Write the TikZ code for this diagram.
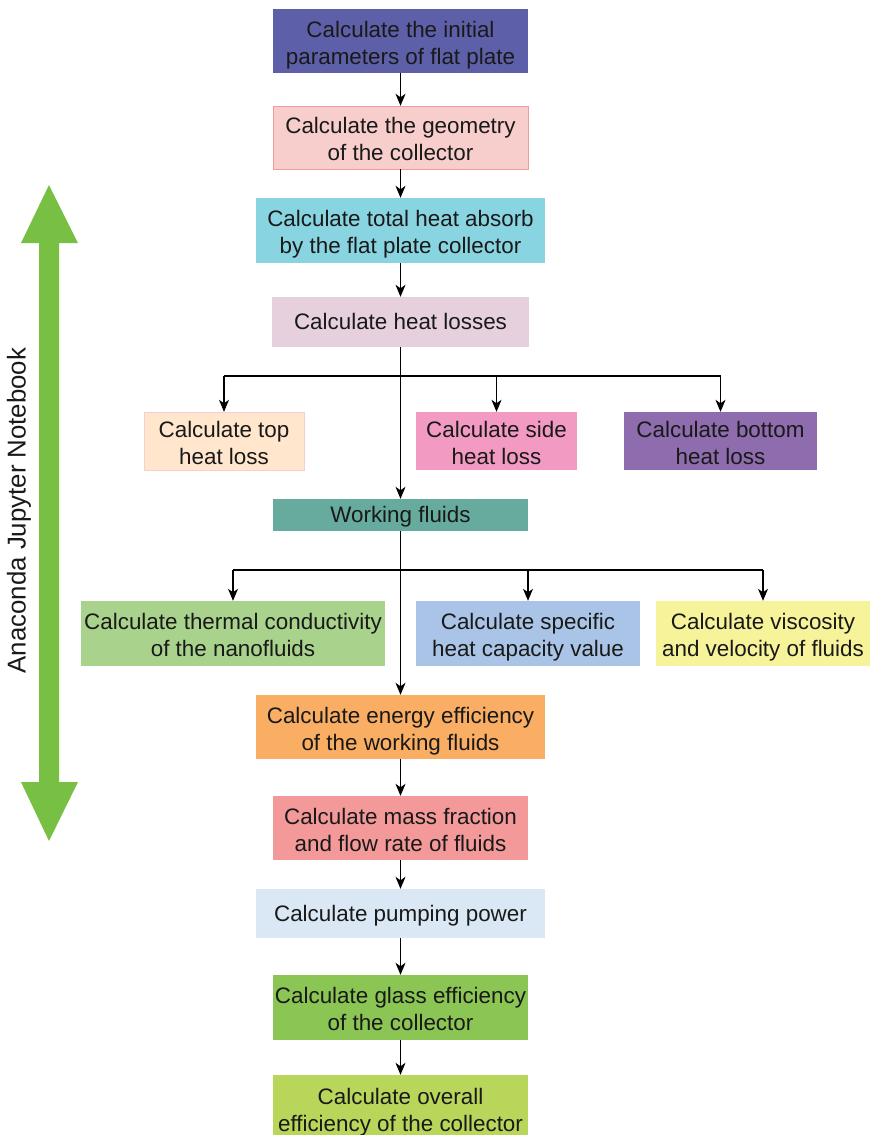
\documentclass[tikz,border=0pt]{standalone}
\usepackage{fontspec}
\setmainfont{Liberation Sans}
\usetikzlibrary{arrows.meta}

\definecolor{initfill}{HTML}{5D60A8}
\definecolor{geomfill}{HTML}{F8CECC}
\definecolor{geomline}{HTML}{F19C99}
\definecolor{absorbfill}{HTML}{89D4E1}
\definecolor{lossfill}{HTML}{E6D0DE}
\definecolor{topfill}{HTML}{FFE6CC}
\definecolor{sidefill}{HTML}{F29AC2}
\definecolor{bottomfill}{HTML}{8E6CAD}
\definecolor{fluidfill}{HTML}{67AB9F}
\definecolor{thermfill}{HTML}{A9D38C}
\definecolor{specfill}{HTML}{A9C4E6}
\definecolor{viscfill}{HTML}{F7F39A}
\definecolor{energyfill}{HTML}{FAAE64}
\definecolor{massfill}{HTML}{F4999A}
\definecolor{pumpfill}{HTML}{DAE8F5}
\definecolor{glassfill}{HTML}{8BC553}
\definecolor{overallfill}{HTML}{B8D65A}
\definecolor{jupyter}{HTML}{77C043}

\begin{document}
\begin{tikzpicture}[x=1pt,y=-1pt,
    stepbox/.style={rectangle, inner sep=0pt, align=center, text=black!90,
        text height=50pt, text depth=4pt,
        font=\fontsize{22.4}{27}\selectfont},
    singleline/.style={text height=21.5pt, text depth=6.5pt},
    flow/.style={-{Stealth[length=12pt,width=10pt,inset=3.5pt]}, line width=1.1pt}]
    \useasboundingbox (0,0) rectangle (870,1135);
    % main column
    \node[stepbox, fill=initfill, minimum width=255pt, minimum height=64pt] (init) at (400.5,41)
        {Calculate the initial\\parameters of flat plate};
    \node[stepbox, fill=geomfill, draw=geomline, minimum width=255pt, minimum height=63pt] (geom) at (400.5,137.5)
        {Calculate the geometry\\of the collector};
    \node[stepbox, fill=absorbfill, minimum width=289pt, minimum height=65pt] (absorb) at (400.5,230.5)
        {Calculate total heat absorb\\by the flat plate collector};
    \node[stepbox, singleline, fill=lossfill, minimum width=257pt, minimum height=50pt] (losses) at (400.5,322)
        {Calculate heat losses};
    % heat loss branches
    \node[stepbox, fill=topfill, draw=geomfill, minimum width=160pt, minimum height=58pt] (top) at (224,441)
        {Calculate top\\heat loss};
    \node[stepbox, fill=sidefill, minimum width=161pt, minimum height=58pt] (side) at (496.5,441)
        {Calculate side\\heat loss};
    \node[stepbox, fill=bottomfill, minimum width=193pt, minimum height=58pt] (bottom) at (720.5,441)
        {Calculate bottom\\heat loss};
    \node[stepbox, singleline, fill=fluidfill, minimum width=255pt, minimum height=32pt] (fluids) at (400.5,515)
        {Working fluids};
    % fluid property branches
    \node[stepbox, fill=thermfill, minimum width=304pt, minimum height=65pt] (therm) at (233,633.5)
        {Calculate thermal conductivity\\of the nanofluids};
    \node[stepbox, fill=specfill, minimum width=224pt, minimum height=65pt] (spec) at (528,633.5)
        {Calculate specific\\heat capacity value};
    \node[stepbox, fill=viscfill, minimum width=214pt, minimum height=65pt] (visc) at (763,633.5)
        {Calculate viscosity\\and velocity of fluids};
    \node[stepbox, fill=energyfill, minimum width=289pt, minimum height=64pt] (energy) at (400.5,727)
        {Calculate energy efficiency\\of the working fluids};
    \node[stepbox, fill=massfill, minimum width=255pt, minimum height=64pt] (mass) at (400.5,828)
        {Calculate mass fraction\\and flow rate of fluids};
    \node[stepbox, singleline, fill=pumpfill, minimum width=289pt, minimum height=49pt] (pump) at (400.5,913.5)
        {Calculate pumping power};
    \node[stepbox, fill=glassfill, minimum width=255pt, minimum height=65pt] (glass) at (400.5,1007.5)
        {Calculate glass efficiency\\of the collector};
    \node[stepbox, fill=overallfill, minimum width=255pt, minimum height=66pt] (overall) at (400.5,1108)
        {Calculate overall\\efficiency of the collector};

    \coordinate (split1) at (400.5,376);
    \coordinate (split2) at (400.5,570);

    \foreach \a/\b in {init/geom, geom/absorb, absorb/losses, losses/fluids, fluids/energy,
        energy/mass, mass/pump, pump/glass, glass/overall}
        \draw[flow] (\a) -- (\b);

    \draw[line width=1.1pt] (top.north |- split1) -- (bottom.north |- split1);
    \foreach \n in {top,side,bottom}
        \draw[flow] (\n.north |- split1) -- (\n.north);
    \draw[line width=1.1pt] (therm.north |- split2) -- (visc.north |- split2);
    \foreach \n in {therm,spec,visc}
        \draw[flow] (\n.north |- split2) -- (\n.north);

    % side arrow
    \fill[jupyter] (39,243) -- (21,243) -- (49,185) -- (78,243) -- (59,243)
        -- (59,782) -- (78,782) -- (49,841) -- (21,782) -- (39,782) -- cycle;
    \node[rotate=90, anchor=base, text=black!90, font=\fontsize{25.8}{31}\selectfont] (jlabel) at (25.5,510.5)
        {Anaconda Jupyter Notebook};
\end{tikzpicture}
\end{document}
